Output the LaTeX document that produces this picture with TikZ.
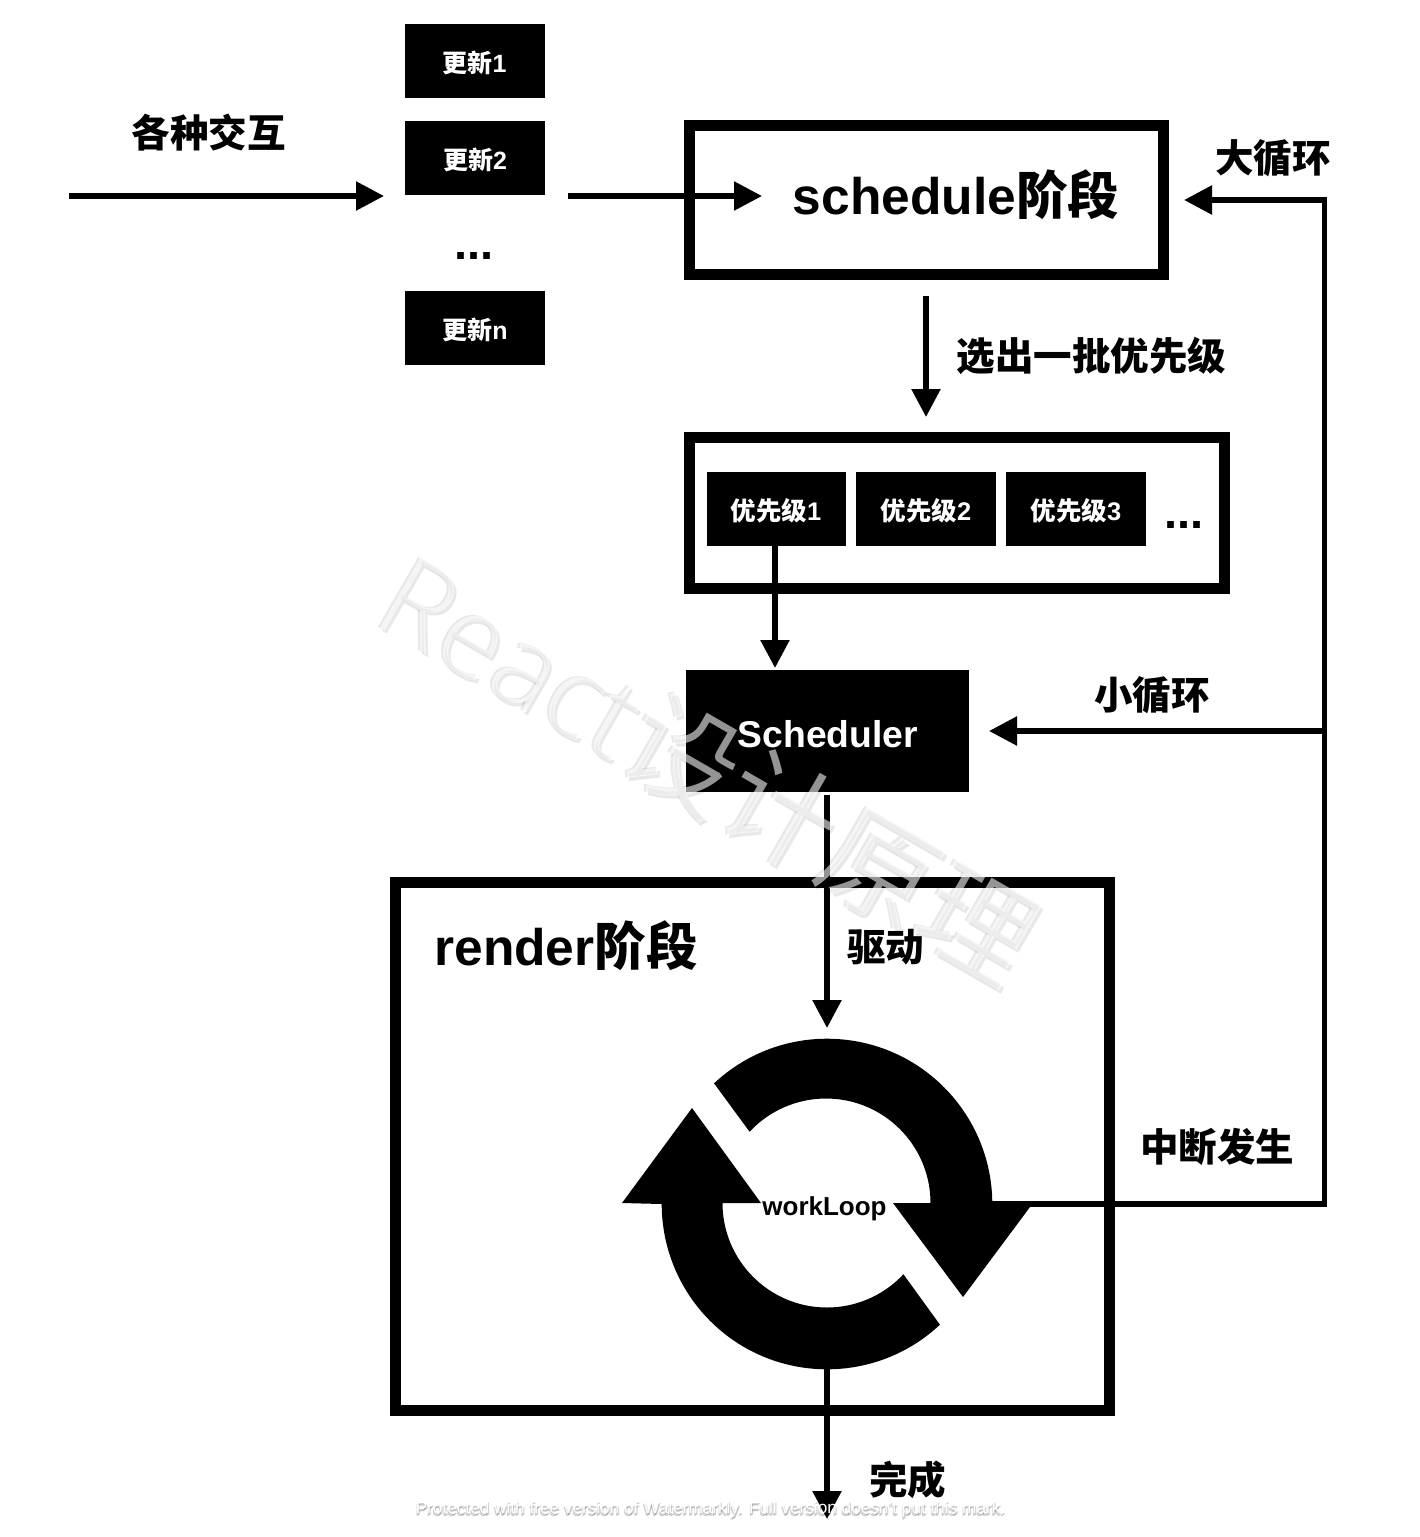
\documentclass[tikz,border=0pt]{standalone}
\usepackage{fontspec}
\usetikzlibrary{arrows.meta}
\setmainfont{Liberation Sans}[BoldFont={Liberation Sans Bold}]
\newfontfamily\cjk{Noto Sans CJK SC}
\newfontfamily\wmcjk{Noto Sans CJK SC DemiLight}
\newfontfamily\wmlat{Open Sans Light}
\newcommand{\zh}[1]{{\cjk\bfseries #1}}
\tikzset{
  x=1pt,y=-1pt,
  conn/.style={line width=5.5pt,-{Triangle[length=28pt,width=28pt]},line join=miter},
  frame/.style={draw=black,line width=11pt,fill=none,inner sep=0pt},
  blackbox/.style={fill=black,text=white,inner sep=0pt,font=\bfseries},
  lab/.style={inner sep=0pt,text=black,font=\bfseries},
  wmhalo/.style={text=black,opacity=.09,rotate=-30,inner sep=0pt,font=\fs{113}},
  wmface/.style={text=white,opacity=.58,rotate=-30,inner sep=0pt,font=\fs{113}},
  foothalo/.style={text=black,opacity=.2,inner sep=0pt,font=\fs{17.2}},
}
\newcommand{\fs}[1]{\fontsize{#1}{#1}\selectfont}
\newcommand{\wmtext}{{\wmlat React}{\wmcjk 设计原理}}
\newcommand{\wmfoot}{Protected with free version of Watermarkly. Full version doesn't put this mark.}
\begin{document}
\begin{tikzpicture}
\useasboundingbox (0,0) rectangle (1420,1537);
\fill[white] (0,0) rectangle (1420,1537);
% free ends
\coordinate (inL) at (69,196);
\coordinate (inR) at (384,196);
\coordinate (outL) at (568,196);
\coordinate (outR) at (762,196);
\coordinate (schedS) at (926,296);
\coordinate (prioN) at (926,417);
\coordinate (schN) at (775,668);
\coordinate (schS) at (827,795);
\coordinate (loopN) at (827,1028);
\coordinate (loopS) at (827,1369);
\coordinate (doneS) at (827,1519);
\coordinate (intA) at (985,1204);
\coordinate (intB) at (1324.5,1204);
\coordinate (big) at (1324.5,200);
\coordinate (bigEnd) at (1184,200);
\coordinate (small) at (1324.5,731);
\coordinate (smallEnd) at (989,731);
% boxes
\node[blackbox,minimum width=140pt,minimum height=74pt] (u1) at (475,61) {};
\node[blackbox,minimum width=140pt,minimum height=74pt] (u2) at (475,158) {};
\node[blackbox,minimum width=140pt,minimum height=74pt] (un) at (475,328) {};
\node[text=white,font=\bfseries,inner sep=0pt] (u1t) at (474.5,63) {\fs{25}\zh{更新}1};
\node[text=white,font=\bfseries,inner sep=0pt] (u2t) at (475,160) {\fs{25}\zh{更新}2};
\node[text=white,font=\bfseries,inner sep=0pt] (unt) at (475,330) {\fs{25}\zh{更新}n};
\node[lab] (dots1) at (474,255.5) {\fs{47}...};
\node[lab] (inter) at (208.5,133) {\fs{38.5}\zh{各种交互}};
\node[frame,minimum width=474pt,minimum height=149pt] (sched) at (926.5,200) {};
\node[lab,anchor=center] (schedt) at (956,195) {\fs{51.5}schedule\zh{阶段}};
\node[frame,minimum width=535pt,minimum height=151pt] (prio) at (957,513) {};
\node[blackbox,minimum width=139pt,minimum height=74pt] (p1) at (776.5,509) {};
\node[blackbox,minimum width=140pt,minimum height=74pt] (p2) at (926,509) {};
\node[blackbox,minimum width=140pt,minimum height=74pt] (p3) at (1076,509) {};
\node[text=white,font=\bfseries,inner sep=0pt] (p1t) at (776,511) {\fs{25.5}\zh{优先级}1};
\node[text=white,font=\bfseries,inner sep=0pt] (p2t) at (926,511) {\fs{25.5}\zh{优先级}2};
\node[text=white,font=\bfseries,inner sep=0pt] (p3t) at (1076,511) {\fs{25.5}\zh{优先级}3};
\node[lab] (dots2) at (1184,525) {\fs{47}...};
\node[blackbox,minimum width=283pt,minimum height=122pt] (scheduler) at (827.5,731) {};
\node[text=white,font=\bfseries,inner sep=0pt] (schedtext) at (828,734) {\fs{37.3}Scheduler};
\node[frame,minimum width=714pt,minimum height=528pt] (render) at (752.5,1146.5) {};
\node[lab] (rendert) at (566,946) {\fs{51.5}render\zh{阶段}};
\node[lab] (drive) at (885.5,947) {\fs{38.5}\zh{驱动}};
\node[lab] (big1) at (1273,158) {\fs{38.5}\zh{大循环}};
\node[lab] (sel) at (1091.5,356) {\fs{38.5}\zh{选出一批优先级}};
\node[lab] (small1) at (1152,695) {\fs{38.5}\zh{小循环}};
\node[lab] (int) at (1217,1147) {\fs{38.5}\zh{中断发生}};
\node[lab] (done) at (907.5,1480) {\fs{38.5}\zh{完成}};
% connectors
\draw[conn] (inL) -- (inR);
\draw[conn] (outL) -- (outR);
\draw[conn] (schedS) -- (prioN);
\draw[conn] (p1.south -| schN) -- (schN);
\draw[conn] (schS) -- (loopN);
\draw[conn] (loopS) -- (doneS);
\draw[conn] (intA) -- (intB) -- (big) -- (bigEnd);
\draw[conn] (small) -- (smallEnd);
% loop arrows
\coordinate (c) at (827,1204);
\fill[black] (c) ++(-133.1:165.3) arc[start angle=-133.1,end angle=0,radius=165.3]
  -- (1030,1207) -- (963,1297) -- (893,1203) -- (930.5,1203)
  arc[start angle=0,end angle=-137,radius=104.5] -- cycle;
\fill[black] (c) ++(46.9:165.3) arc[start angle=46.9,end angle=180,radius=165.3]
  -- (622,1203) -- (692,1108) -- (761,1203) -- (722.5,1203)
  arc[start angle=180,end angle=43,radius=104.5] -- cycle;
\node[lab] (loop) at (824.5,1208.5) {\fs{26}workLoop};
% watermarks
\node[wmhalo] (wms1) at (711,772) {\wmtext};
\node[wmhalo] (wms2) at (707,768) {\wmtext};
\node[wmface] (wm) at (709,769) {\wmtext};
\node[foothalo] (wb1) at (711.5,1511.5) {\wmfoot};
\node[foothalo] (wb2) at (710,1512) {\wmfoot};
\node[text=white,inner sep=0pt,font=\fs{17.2}] (wa) at (710.5,1509.5) {\wmfoot};
\end{tikzpicture}
\end{document}
